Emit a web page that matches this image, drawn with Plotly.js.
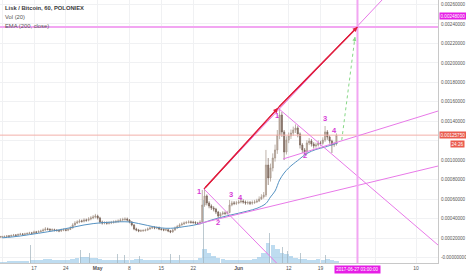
<!DOCTYPE html>
<html><head><meta charset="utf-8">
<script src="https://cdn.plot.ly/plotly-3.0.1.min.js"></script>
<style>html,body{margin:0;padding:0;background:#fff}#chart{width:466px;height:275px}</style>
</head><body><div id="chart"></div>
<script>
// ---- DATA (prices in satoshi = 1e-8 BTC) ----
const candleOpen = [21400,21000,21300,21600,22100,21800,22600,23100,22800,23600,
24100,23800,24200,24600,25200,24900,26200,25900,26700,27200,
28200,29300,29000,28200,28500,28000,27700,27200,28200,28400,
28000,28800,30300,33400,35400,36500,37500,37200,38500,38200,
39500,40600,41600,42600,40600,36500,35400,35700,35200,35500,
36000,36500,37000,37500,38500,39000,39500,38500,36500,33400,
29300,28200,27200,27500,27700,28200,29300,30300,30800,30300,
30500,29300,28800,28200,28500,27200,26200,28200,30300,31800,
33400,34400,35400,36000,36500,36200,36000,35400,34900,36500,
53900,63200,56000,52900,50900,49800,46700,42600,44700,45700,
45400,46200,53900,56000,55700,56000,57000,58000,57000,56000,
56300,55800,56500,57000,58000,60100,62200,64200,95000,81700,
92000,102200,110500,125900,146400,129000,108400,120700,124900,127900,
131000,133100,126900,115600,110500,108400,117700,119700,116600,114600,
115600,117700,117400,120700,129000,123800,119700,115600,116600];
const candleHigh = [22200,22300,22600,23000,23100,23600,24200,24000,24700,25300,
25000,25400,25900,26400,26300,27600,27300,28000,28600,29800,
31200,30700,30000,29900,29600,29200,28800,29600,29800,29700,
30200,32000,35200,37300,38200,39300,38900,40300,40000,41400,
42500,43600,44800,44000,41800,37900,37200,37000,37100,37600,
38100,38600,39200,40300,40800,41300,41000,39600,37400,34300,
30600,29400,28900,29100,29600,30800,31900,32400,32300,32000,
31800,30500,29900,29800,29400,28300,29500,31800,33500,35100,
36100,37000,37600,38200,38000,37700,37300,36600,38300,69400,
70400,64800,57800,54600,52700,51000,47900,46500,47600,47300,
48000,59100,58300,58000,58200,59300,60500,59800,58600,58400,
58100,58600,59200,60300,62800,65000,67300,110500,102200,96500,
107000,116000,131000,153600,149500,131000,124500,128500,131500,134500,
136800,135500,128500,117500,112500,120500,122800,121800,118500,118000,
120300,120000,123500,135100,131000,125500,121000,119000,127500];
const candleLow = [20200,20300,20700,21000,20900,21200,22000,21900,22100,22900,
22800,23000,23400,23900,23800,24300,24800,25200,25900,26600,
27500,27800,27000,27100,26800,26500,26000,26300,27000,26900,
27000,28200,29800,32600,34400,35200,35800,36000,36700,37100,
38200,39300,40200,39000,34800,33800,34000,33700,33900,34300,
34800,35300,35700,36400,37200,37600,37000,35100,32000,28000,
26900,26000,26200,26400,26700,27500,28500,29200,29000,29100,
28100,27600,27000,27100,26000,25000,25500,27500,29700,31000,
32700,33600,34400,34900,34800,34600,34000,33500,33600,35800,
52000,53500,50600,48800,47400,44600,38500,41300,43400,43500,
44000,45500,52600,53800,53900,54800,55600,55200,54200,54300,
53900,54200,55000,55900,57000,59200,60500,62200,74500,78000,
88500,98500,106500,121500,124000,100200,105800,117500,121800,124900,
128000,123500,112000,107500,105300,106500,115500,114000,112000,112800,
114000,115000,115800,118800,121000,117000,107400,113500,115000];
const candleClose = [21000,21300,21600,22100,21800,22600,23100,22800,23600,24100,
23800,24200,24600,25200,24900,26200,25900,26700,27200,28200,
29300,29000,28200,28500,28000,27700,27200,28200,28400,28000,
28800,30300,33400,35400,36500,37500,37200,38500,38200,39500,
40600,41600,42600,40600,36500,35400,35700,35200,35500,36000,
36500,37000,37500,38500,39000,39500,38500,36500,33400,29300,
28200,27200,27500,27700,28200,29300,30300,30800,30300,30500,
29300,28800,28200,28500,27200,26200,28200,30300,31800,33400,
34400,35400,36000,36500,36200,36000,35400,34900,36500,53900,
63200,56000,52900,50900,49800,46700,42600,44700,45700,45400,
46200,53900,56000,55700,56000,57000,58000,57000,56000,56300,
55800,56500,57000,58000,60100,62200,64200,95000,81700,92000,
102200,110500,125900,146400,129000,108400,120700,124900,127900,131000,
133100,126900,115600,110500,108400,117700,119700,116600,114600,115600,
117700,117400,120700,129000,123800,119700,115600,116600,125750];
const candleStart = Date.UTC(2017,3,9,12);   // 12h candles
const candleStepHours = 12;

const emaDates = ['2017-04-10','2017-04-12','2017-04-14','2017-04-16','2017-04-18','2017-04-20','2017-04-22','2017-04-24','2017-04-26','2017-04-28','2017-04-30',
'2017-05-02','2017-05-04','2017-05-06','2017-05-08','2017-05-10','2017-05-12','2017-05-14','2017-05-16','2017-05-18','2017-05-20','2017-05-22','2017-05-24','2017-05-26','2017-05-28','2017-05-30',
'2017-06-01','2017-06-03','2017-06-05','2017-06-07','2017-06-08','2017-06-09','2017-06-10','2017-06-11','2017-06-12','2017-06-13','2017-06-14','2017-06-16','2017-06-18','2017-06-20','2017-06-22','2017-06-22 18:00'];
const emaValues = [20200,21000,22100,23500,24900,26400,27900,29700,31500,33400,34800,
35800,36300,36700,36500,34900,32900,31000,30000,30300,31700,33100,35400,38500,41100,43400,
45500,47800,50500,55500,62200,68300,79600,86800,92000,96100,99700,106900,111000,113500,116600,117700];

const volStart = Date.UTC(2017,3,9,12);      // daily volume
const volDaily = [15,15,20,20,20,20,25,30,30,35,40,40,35,30,30,30,40,50,60,60,
55,50,40,35,30,30,35,30,30,30,40,40,35,30,30,30,35,30,30,30,
30,35,30,30,50,140,100,70,50,40,30,30,30,30,30,30,40,60,100,200,
180,140,100,90,70,50,40,40,35,35,40,35,40,30,25];
const spikeDates = ['2017-04-16 03:00','2017-04-19 10:00','2017-04-27 03:00','2017-04-29 07:00','2017-04-30 15:00','2017-05-05 11:00','2017-05-07 00:00','2017-05-10 07:00','2017-05-16 22:00','2017-05-19 02:00','2017-05-24 04:00','2017-05-25 01:00','2017-06-06 19:00','2017-06-07 21:00','2017-06-09 05:00','2017-06-10 13:00','2017-06-11 20:00','2017-06-14 12:00','2017-06-20 00:00'];
const spikeVol = [180,160,130,100,120,90,80,70,90,80,630,200,1150,300,220,160,120,100,80];

const xTickDates = ['2017-04-10','2017-04-17','2017-04-24','2017-05-01','2017-05-08','2017-05-15','2017-05-22','2017-06-01','2017-06-12','2017-06-19','2017-07-01','2017-07-10'];
const xTickText = ['10','17','24','<b>May</b>','8','15','22','<b>Jun</b>','12','19','','10'];
const yTickVals = [0,20000,40000,60000,80000,100000,120000,140000,160000,180000,200000,220000,240000,260000];
const yTickText = ['-0.00000000','0.00020000','0.00040000','0.00060000','0.00080000','0.00100000','','0.00140000','0.00160000','0.00180000','0.00200000','0.00220000','0.00240000','0.00260000'];

// drawings (date, price)
const redArrow1 = {x:['2017-05-24 09:00','2017-06-09 15:30'], y:[70400,153600]};
const redArrow2 = {x:['2017-06-09 15:30','2017-06-27 03:00'], y:[153600,236900]};
const greenArrow = {x:['2017-06-23 16:00','2017-06-26 14:00'], y:[120700,226600]};
const magentaRay = {x:['2017-05-24 09:00','2017-07-02 12:30'], y:[70400,264600]};
const targetLevel = 236900;
const targetLabel = 248000;
const targetDate = '2017-06-27 03:00';
const trendLines = [
  {x:['2017-05-24 09:00','2017-06-10 12:45'], y:[70400,-11400]},
  {x:['2017-06-09 15:30','2017-07-14 20:00'], y:[153600,12800]},
  {x:['2017-06-10 18:00','2017-07-14 20:00'], y:[101200,150500]},
  {x:['2017-05-22 23:00','2017-07-14 20:00'], y:[34400,94000]}
];
const waveLabels = ['1','2','3','4','1','2','3','4'];
const waveDates = ['2017-05-23 07:00','2017-05-27 09:00','2017-05-30 06:00','2017-06-01 12:00','2017-06-09 10:00','2017-06-15 14:00','2017-06-19 23:30','2017-06-22 04:00'];
const wavePrices = [68300,35900,65200,61600,145900,105300,143300,131000];
const lastPrice = 125750;

// ---- BUILD ----
const fmt = ms => new Date(ms).toISOString().slice(0,16).replace('T',' ');
const candleX = candleClose.map((_,k)=>fmt(candleStart + k*candleStepHours*3600e3));
const volX = volDaily.map((_,k)=>fmt(volStart + k*24*3600e3));

const MAG = '#e879e8', MAGD = '#d63ad6';
const traces = [
  {type:'bar', x:volX, y:volDaily, yaxis:'y2', width:86400000*0.98, marker:{color:'rgba(125,185,225,0.5)', line:{width:0}}, hoverinfo:'skip'},
  {type:'bar', x:spikeDates, y:spikeVol, yaxis:'y2', width:3600000*5, marker:{color:'rgba(160,178,188,0.7)', line:{width:0}}, hoverinfo:'skip'},
  {type:'scatter', mode:'lines', x:emaDates, y:emaValues, line:{color:'#5592c2', width:1, shape:'spline'}, hoverinfo:'skip'},
  {type:'candlestick', x:candleX, open:candleOpen, high:candleHigh, low:candleLow, close:candleClose,
   increasing:{line:{color:'#a39285', width:0.7}, fillcolor:'#c3b6ad'},
   decreasing:{line:{color:'#7b665a', width:0.7}, fillcolor:'#7b665a'}, hoverinfo:'skip', whiskerwidth:0}
];

const shapes = [];
const line = (p, color, width, dash) => ({type:'line', xref:'x', yref:'y', x0:p.x[0], y0:p.y[0], x1:p.x[1], y1:p.y[1], line:{color, width, dash:dash||'solid'}});
shapes.push({type:'line', xref:'paper', x0:0, x1:1, yref:'y', y0:lastPrice, y1:lastPrice, line:{color:'#f3b0aa', width:1}});
shapes.push(line(magentaRay, MAG, 1));
trendLines.forEach(t=>shapes.push(line(t, MAG, 1)));
shapes.push({type:'line', xref:'paper', x0:0, x1:1, yref:'y', y0:targetLevel, y1:targetLevel, line:{color:'#f2a6f2', width:2}});
shapes.push({type:'line', xref:'x', x0:targetDate, x1:targetDate, yref:'paper', y0:0, y1:1, line:{color:'#f2a6f2', width:2}});
shapes.push(line(greenArrow, '#86d886', 1, 'dot'));
shapes.push(line(redArrow1, '#e01e3c', 1.2));
shapes.push(line(redArrow2, '#e01e3c', 1.2));

const annotations = [];
const ff = 'Liberation Sans, Arial, sans-serif';
[redArrow1, redArrow2].forEach(a=>annotations.push({x:a.x[1], y:a.y[1], ax:a.x[0], ay:a.y[0], axref:'x', ayref:'y', xref:'x', yref:'y', text:'', showarrow:true, arrowhead:2, arrowsize:0.8, arrowwidth:1.2, arrowcolor:'#e01e3c'}));
annotations.push({x:greenArrow.x[1], y:greenArrow.y[1], xref:'x', yref:'y', ax:-1, ay:6, text:'', showarrow:true, arrowhead:2, arrowsize:0.8, arrowwidth:1, arrowcolor:'#86d886'});
waveLabels.forEach((t,i)=>annotations.push({x:waveDates[i], y:wavePrices[i], xref:'x', yref:'y', text:'<b>'+t+'</b>', showarrow:false, font:{family:ff, size:7.5, color:MAGD}}));
annotations.push({xref:'paper', yref:'paper', x:0.007, y:1-8/263, xanchor:'left', yanchor:'middle', text:'<b>Lisk / Bitcoin, 60, POLONIEX</b>', showarrow:false, font:{family:ff, size:5.8, color:'#3a3a3a'}});
annotations.push({xref:'paper', yref:'paper', x:0.007, y:1-16.5/263, xanchor:'left', yanchor:'middle', text:'Vol (20)', showarrow:false, font:{family:ff, size:5.8, color:'#555'}});
annotations.push({xref:'paper', yref:'paper', x:0.007, y:1-25.5/263, xanchor:'left', yanchor:'middle', text:'EMA (200, close)', showarrow:false, font:{family:ff, size:5.8, color:'#555'}});
annotations.push({xref:'paper', yref:'y', x:439/438, y:lastPrice, xanchor:'left', yanchor:'middle', text:'0.00125750', showarrow:false, bgcolor:'#ea5b4e', borderpad:0.5, font:{family:ff, size:4.6, color:'#fff'}});
annotations.push({xref:'paper', yref:'y', x:465/438, y:lastPrice, yshift:-9, xanchor:'right', yanchor:'middle', text:'24:26', showarrow:false, bgcolor:'#ea5b4e', borderpad:0.5, font:{family:ff, size:4.6, color:'#fff'}});
annotations.push({xref:'paper', yref:'y', x:439/438, y:targetLabel, xanchor:'left', yanchor:'middle', text:'0.00248000', showarrow:false, bgcolor:'#e61ee6', borderpad:0.5, font:{family:ff, size:4.6, color:'#fff'}});
annotations.push({xref:'x', yref:'paper', x:targetDate, y:1-269/263, xanchor:'center', yanchor:'middle', text:'2017-06-27 03:00:00', showarrow:false, bgcolor:'#e61ee6', borderpad:1.2, font:{family:ff, size:4.5, color:'#fff'}});

const layout = {
  width:466, height:275, margin:{l:0, r:28, t:0, b:12},
  paper_bgcolor:'#fff', plot_bgcolor:'#fff', showlegend:false, barmode:'overlay', bargap:0,
  font:{family:ff, size:5, color:'#555'},
  xaxis:{type:'date', range:['2017-04-09 12:34','2017-07-14 19:55'], tickvals:xTickDates, ticktext:xTickText,
    tickfont:{family:ff, size:5, color:'#555'}, showgrid:true, gridcolor:'#f0f1f3', gridwidth:1, zeroline:false,
    showline:true, linecolor:'#c8c8c8', linewidth:1, ticks:'', rangeslider:{visible:false}, fixedrange:true},
  yaxis:{side:'right', range:[-5673, 264625], tickvals:yTickVals, ticktext:yTickText,
    tickfont:{family:ff, size:4.6, color:'#555'}, showgrid:true, gridcolor:'#f0f1f3', zeroline:false,
    showline:true, linecolor:'#c8c8c8', linewidth:1, ticks:'', ticklabelstandoff:1, fixedrange:true},
  yaxis2:{overlaying:'y', range:[0,2630], visible:false, fixedrange:true},
  shapes, annotations
};
Plotly.newPlot('chart', traces, layout, {staticPlot:true, displayModeBar:false});
</script></body></html>
